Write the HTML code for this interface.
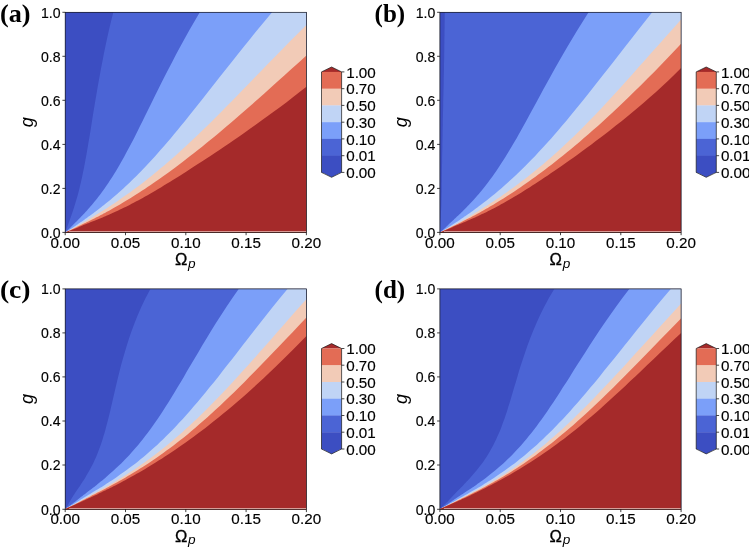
<!DOCTYPE html>
<html><head><meta charset="utf-8"><title>Figure</title>
<style>html,body{margin:0;padding:0;background:#fff;overflow:hidden}svg{display:block;will-change:transform}</style>
</head><body>
<svg width="749" height="550" viewBox="0 0 749 550">
<rect width="749" height="550" fill="#fff"/>
<clipPath id="cpa"><rect x="64.9" y="12.0" width="241.8" height="220.7"/></clipPath>
<g>
<g clip-path="url(#cpa)">
<rect x="64.9" y="12.0" width="241.8" height="220.7" fill="#3c4ec2"/>
<polygon points="65.2,232.4 67.1,227.4 67.2,227.2 67.3,227.0 67.3,226.7 67.4,226.5 67.5,226.2 67.6,225.9 67.7,225.7 67.8,225.4 67.9,225.1 68.0,224.8 68.2,224.4 68.3,224.1 68.4,223.7 68.5,223.3 68.7,222.9 68.8,222.5 69.0,222.1 69.1,221.7 69.3,221.2 69.5,220.7 69.7,220.2 69.8,219.7 70.0,219.1 70.3,218.5 70.5,217.9 70.7,217.3 70.9,216.6 71.2,216.0 71.4,215.2 71.7,214.5 71.9,213.7 72.2,212.9 72.5,212.1 72.8,211.2 73.1,210.3 73.4,209.3 73.8,208.3 74.1,207.2 74.4,206.1 74.8,205.0 75.2,203.8 75.5,202.6 75.9,201.3 76.3,199.9 76.7,198.5 77.2,197.0 77.6,195.5 78.0,193.9 78.5,192.2 78.9,190.5 79.4,188.7 79.8,186.8 80.3,184.8 80.8,182.7 81.3,180.6 81.8,178.3 82.3,176.0 82.8,173.5 83.3,170.9 83.9,168.3 84.4,165.5 85.0,162.6 85.5,159.5 86.1,156.4 86.7,153.1 87.3,149.6 87.9,146.0 88.5,142.3 89.2,138.4 89.9,134.3 90.6,130.0 91.3,125.6 92.0,120.9 92.8,116.1 93.6,111.0 94.5,105.8 95.4,100.3 96.4,94.5 97.4,88.5 98.5,82.3 99.7,75.8 100.9,69.0 102.3,61.9 103.7,54.5 105.3,46.7 107.0,38.7 108.9,30.2 111.0,21.5 113.3,12.3 306.4,12.3 306.4,233.4 65.2,233.4" fill="#4b64d5"/>
<polygon points="65.2,232.4 70.5,227.4 70.7,227.2 71.0,227.0 71.2,226.7 71.4,226.5 71.7,226.2 72.0,225.9 72.2,225.7 72.5,225.4 72.8,225.1 73.2,224.8 73.5,224.4 73.8,224.1 74.2,223.7 74.6,223.3 75.0,222.9 75.4,222.5 75.8,222.1 76.3,221.7 76.7,221.2 77.2,220.7 77.7,220.2 78.2,219.7 78.8,219.1 79.4,218.5 79.9,217.9 80.6,217.3 81.2,216.6 81.8,216.0 82.5,215.2 83.2,214.5 84.0,213.7 84.7,212.9 85.5,212.1 86.3,211.2 87.2,210.3 88.0,209.3 88.9,208.3 89.8,207.2 90.8,206.1 91.8,205.0 92.8,203.8 93.8,202.6 94.8,201.3 95.9,199.9 97.1,198.5 98.2,197.0 99.4,195.5 100.6,193.9 101.8,192.2 103.1,190.5 104.4,188.7 105.7,186.8 107.1,184.8 108.5,182.7 109.9,180.6 111.4,178.3 112.9,176.0 114.4,173.5 116.0,170.9 117.6,168.3 119.2,165.5 120.9,162.6 122.6,159.5 124.3,156.4 126.1,153.1 128.0,149.6 129.9,146.0 131.9,142.3 133.9,138.4 136.0,134.3 138.1,130.0 140.3,125.6 142.6,120.9 145.0,116.1 147.5,111.0 150.1,105.8 152.8,100.3 155.6,94.5 158.6,88.5 161.7,82.3 165.0,75.8 168.5,69.0 172.2,61.9 176.0,54.5 180.2,46.7 184.6,38.7 189.3,30.2 194.4,21.5 199.8,12.3 306.4,12.3 306.4,233.4 65.2,233.4" fill="#7b9ff9"/>
<polygon points="65.2,232.4 73.0,227.4 73.3,227.2 73.6,227.0 74.0,226.7 74.4,226.5 74.8,226.2 75.2,225.9 75.6,225.7 76.0,225.4 76.5,225.1 77.0,224.8 77.5,224.4 78.0,224.1 78.5,223.7 79.0,223.3 79.6,222.9 80.2,222.5 80.8,222.1 81.5,221.7 82.2,221.2 82.9,220.7 83.6,220.2 84.4,219.7 85.1,219.1 86.0,218.5 86.8,217.9 87.7,217.3 88.6,216.6 89.5,216.0 90.5,215.2 91.6,214.5 92.6,213.7 93.7,212.9 94.8,212.1 96.0,211.2 97.2,210.3 98.5,209.3 99.8,208.3 101.1,207.2 102.5,206.1 104.0,205.0 105.4,203.8 107.0,202.6 108.6,201.3 110.2,199.9 111.9,198.5 113.6,197.0 115.4,195.5 117.2,193.9 119.1,192.2 121.1,190.5 123.1,188.7 125.1,186.8 127.3,184.8 129.5,182.7 131.7,180.6 134.0,178.3 136.4,176.0 138.8,173.5 141.3,170.9 143.9,168.3 146.5,165.5 149.3,162.6 152.1,159.5 154.9,156.4 157.9,153.1 160.9,149.6 164.1,146.0 167.3,142.3 170.6,138.4 174.0,134.3 177.6,130.0 181.2,125.6 185.0,120.9 188.9,116.1 192.9,111.0 197.1,105.8 201.5,100.3 206.0,94.5 210.7,88.5 215.6,82.3 220.7,75.8 226.1,69.0 231.7,61.9 237.6,54.5 243.8,46.7 250.3,38.7 257.1,30.2 264.4,21.5 272.1,12.3 306.4,12.3 306.4,233.4 65.2,233.4" fill="#c0d4f5"/>
<polygon points="65.2,232.4 74.5,227.4 74.9,227.2 75.3,227.0 75.7,226.7 76.2,226.5 76.6,226.2 77.1,226.0 77.6,225.7 78.1,225.4 78.7,225.1 79.2,224.8 79.8,224.5 80.4,224.1 81.0,223.8 81.7,223.4 82.4,223.0 83.1,222.6 83.8,222.2 84.5,221.8 85.3,221.3 86.1,220.9 87.0,220.4 87.8,219.8 88.8,219.3 89.7,218.7 90.7,218.2 91.7,217.6 92.8,216.9 93.9,216.3 95.0,215.6 96.2,214.8 97.4,214.1 98.7,213.3 100.0,212.5 101.3,211.6 102.7,210.8 104.2,209.8 105.7,208.9 107.3,207.9 108.9,206.8 110.6,205.7 112.3,204.6 114.1,203.4 115.9,202.2 117.8,200.9 119.8,199.5 121.8,198.1 123.9,196.6 126.1,195.1 128.3,193.5 130.6,191.9 133.0,190.1 135.5,188.3 138.0,186.4 140.6,184.5 143.2,182.4 146.0,180.3 148.8,178.0 151.7,175.7 154.7,173.3 157.8,170.8 160.9,168.1 164.2,165.4 167.5,162.5 171.0,159.5 174.5,156.4 178.1,153.2 181.9,149.8 185.7,146.3 189.7,142.6 193.7,138.7 198.0,134.7 202.3,130.6 206.8,126.2 211.4,121.7 216.1,116.9 221.1,112.0 226.2,106.8 231.5,101.5 236.9,95.9 242.6,90.0 248.5,84.0 254.7,77.6 261.1,71.0 267.8,64.1 274.8,56.9 282.1,49.4 289.8,41.6 297.9,33.4 306.4,24.9 306.4,233.4 65.2,233.4" fill="#f2cbb7"/>
<polygon points="65.2,232.4 76.0,227.4 76.4,227.2 76.9,227.0 77.3,226.8 77.8,226.5 78.3,226.3 78.9,226.0 79.4,225.8 80.0,225.5 80.6,225.2 81.2,224.9 81.9,224.6 82.5,224.3 83.2,224.0 83.9,223.6 84.7,223.3 85.4,222.9 86.2,222.5 87.1,222.1 87.9,221.7 88.8,221.3 89.7,220.8 90.7,220.3 91.6,219.8 92.7,219.3 93.7,218.8 94.8,218.2 95.9,217.6 97.1,217.0 98.3,216.4 99.6,215.8 100.8,215.1 102.2,214.4 103.6,213.6 105.0,212.9 106.4,212.1 108.0,211.2 109.5,210.4 111.1,209.5 112.8,208.5 114.5,207.6 116.3,206.5 118.1,205.5 120.0,204.4 121.9,203.2 123.9,202.0 126.0,200.8 128.1,199.5 130.3,198.2 132.6,196.8 134.9,195.3 137.3,193.8 139.7,192.2 142.2,190.6 144.8,188.9 147.5,187.1 150.3,185.2 153.1,183.3 156.0,181.3 159.0,179.2 162.1,177.0 165.3,174.8 168.5,172.4 171.9,170.0 175.3,167.4 178.9,164.8 182.5,162.0 186.3,159.1 190.1,156.1 194.1,153.0 198.2,149.7 202.4,146.4 206.8,142.8 211.2,139.2 215.9,135.4 220.6,131.4 225.5,127.3 230.6,123.0 235.8,118.5 241.2,113.8 246.7,109.0 252.5,103.9 258.4,98.7 264.6,93.2 270.9,87.5 277.5,81.6 284.3,75.5 291.4,69.0 298.8,62.4 306.4,55.4 306.4,233.4 65.2,233.4" fill="#e36c55"/>
<polygon points="65.2,232.4 78.1,227.4 78.5,227.2 79.0,227.0 79.4,226.8 79.9,226.6 80.4,226.4 80.9,226.1 81.5,225.9 82.1,225.6 82.7,225.4 83.4,225.1 84.1,224.8 84.8,224.5 85.6,224.2 86.4,223.9 87.2,223.6 88.1,223.2 89.0,222.9 89.9,222.5 90.9,222.1 91.9,221.7 92.9,221.3 94.0,220.9 95.1,220.4 96.3,220.0 97.5,219.5 98.7,219.0 100.0,218.5 101.3,218.0 102.6,217.4 104.0,216.8 105.4,216.2 106.9,215.6 108.4,214.9 109.9,214.3 111.5,213.6 113.1,212.8 114.8,212.1 116.5,211.3 118.2,210.5 120.0,209.6 121.8,208.8 123.7,207.8 125.6,206.9 127.6,205.9 129.6,204.9 131.6,203.8 133.7,202.7 135.9,201.6 138.1,200.4 140.4,199.2 142.7,197.9 145.1,196.5 147.6,195.2 150.1,193.7 152.7,192.2 155.3,190.7 158.1,189.1 160.9,187.4 163.8,185.6 166.7,183.8 169.8,182.0 172.9,180.0 176.2,178.0 179.5,175.9 183.0,173.7 186.5,171.4 190.2,169.1 194.0,166.6 197.9,164.1 201.9,161.5 206.1,158.7 210.4,155.9 214.8,152.9 219.4,149.9 224.1,146.7 229.0,143.4 234.0,139.9 239.2,136.4 244.5,132.7 250.0,128.8 255.7,124.8 261.5,120.6 267.4,116.3 273.6,111.8 279.9,107.2 286.3,102.4 292.9,97.3 299.6,92.1 306.4,86.7 306.4,233.4 65.2,233.4" fill="#a52a2a"/>
</g>
<line x1="69.2" y1="231.65" x2="306.4" y2="231.65" stroke="#f3cdc6" stroke-width="0.8"/>
<rect x="65.2" y="12.3" width="241.2" height="220.1" fill="none" stroke="#1a1a1a" stroke-width="0.7"/>
<line x1="62.4" y1="232.4" x2="65.2" y2="232.4" stroke="#111" stroke-width="0.8"/>
<text x="60.6" y="237.7" text-anchor="end" textLength="19.6" lengthAdjust="spacingAndGlyphs" font-family="Liberation Sans, sans-serif" font-size="14.5" fill="#000" stroke="#000" stroke-width="0.15">0.0</text>
<line x1="62.4" y1="188.4" x2="65.2" y2="188.4" stroke="#111" stroke-width="0.8"/>
<text x="60.6" y="193.7" text-anchor="end" textLength="19.6" lengthAdjust="spacingAndGlyphs" font-family="Liberation Sans, sans-serif" font-size="14.5" fill="#000" stroke="#000" stroke-width="0.15">0.2</text>
<line x1="62.4" y1="144.4" x2="65.2" y2="144.4" stroke="#111" stroke-width="0.8"/>
<text x="60.6" y="149.7" text-anchor="end" textLength="19.6" lengthAdjust="spacingAndGlyphs" font-family="Liberation Sans, sans-serif" font-size="14.5" fill="#000" stroke="#000" stroke-width="0.15">0.4</text>
<line x1="62.4" y1="100.3" x2="65.2" y2="100.3" stroke="#111" stroke-width="0.8"/>
<text x="60.6" y="105.6" text-anchor="end" textLength="19.6" lengthAdjust="spacingAndGlyphs" font-family="Liberation Sans, sans-serif" font-size="14.5" fill="#000" stroke="#000" stroke-width="0.15">0.6</text>
<line x1="62.4" y1="56.3" x2="65.2" y2="56.3" stroke="#111" stroke-width="0.8"/>
<text x="60.6" y="61.6" text-anchor="end" textLength="19.6" lengthAdjust="spacingAndGlyphs" font-family="Liberation Sans, sans-serif" font-size="14.5" fill="#000" stroke="#000" stroke-width="0.15">0.8</text>
<line x1="62.4" y1="12.3" x2="65.2" y2="12.3" stroke="#111" stroke-width="0.8"/>
<text x="60.6" y="17.6" text-anchor="end" textLength="19.6" lengthAdjust="spacingAndGlyphs" font-family="Liberation Sans, sans-serif" font-size="14.5" fill="#000" stroke="#000" stroke-width="0.15">1.0</text>
<line x1="65.2" y1="232.4" x2="65.2" y2="235.2" stroke="#111" stroke-width="0.8"/>
<text x="65.2" y="247.6" text-anchor="middle" textLength="29.6" lengthAdjust="spacingAndGlyphs" font-family="Liberation Sans, sans-serif" font-size="14.5" fill="#000" stroke="#000" stroke-width="0.15">0.00</text>
<line x1="125.5" y1="232.4" x2="125.5" y2="235.2" stroke="#111" stroke-width="0.8"/>
<text x="125.5" y="247.6" text-anchor="middle" textLength="29.6" lengthAdjust="spacingAndGlyphs" font-family="Liberation Sans, sans-serif" font-size="14.5" fill="#000" stroke="#000" stroke-width="0.15">0.05</text>
<line x1="185.8" y1="232.4" x2="185.8" y2="235.2" stroke="#111" stroke-width="0.8"/>
<text x="185.8" y="247.6" text-anchor="middle" textLength="29.6" lengthAdjust="spacingAndGlyphs" font-family="Liberation Sans, sans-serif" font-size="14.5" fill="#000" stroke="#000" stroke-width="0.15">0.10</text>
<line x1="246.1" y1="232.4" x2="246.1" y2="235.2" stroke="#111" stroke-width="0.8"/>
<text x="246.1" y="247.6" text-anchor="middle" textLength="29.6" lengthAdjust="spacingAndGlyphs" font-family="Liberation Sans, sans-serif" font-size="14.5" fill="#000" stroke="#000" stroke-width="0.15">0.15</text>
<line x1="306.4" y1="232.4" x2="306.4" y2="235.2" stroke="#111" stroke-width="0.8"/>
<text x="306.4" y="247.6" text-anchor="middle" textLength="29.6" lengthAdjust="spacingAndGlyphs" font-family="Liberation Sans, sans-serif" font-size="14.5" fill="#000" stroke="#000" stroke-width="0.15">0.20</text>
<text x="174.9" y="265.1" font-family="Liberation Sans, sans-serif" font-size="16.2" fill="#000" stroke="#000" stroke-width="0.3" textLength="12.4" lengthAdjust="spacingAndGlyphs">&#937;</text>
<text x="188.0" y="267.7" font-family="Liberation Sans, sans-serif" font-style="italic" font-size="12.4" fill="#000" textLength="7.6" lengthAdjust="spacingAndGlyphs">p</text>
<text transform="translate(32.7,122.3) rotate(-90)" font-family="Liberation Sans, sans-serif" font-style="italic" font-size="18.2" fill="#000" text-anchor="middle">g</text>
<text x="-0.1" y="21.6" font-family="Liberation Serif, serif" font-weight="bold" font-size="26" fill="#000" textLength="30.6" lengthAdjust="spacingAndGlyphs">(a)</text>
<polygon points="321.5,71.9 331.6,67.0 341.6,71.9" fill="#a52a2a"/>
<rect x="321.5" y="71.90" width="20.1" height="17.05" fill="#e36c55"/>
<rect x="321.5" y="88.65" width="20.1" height="17.05" fill="#f2cbb7"/>
<rect x="321.5" y="105.40" width="20.1" height="17.05" fill="#c0d4f5"/>
<rect x="321.5" y="122.15" width="20.1" height="17.05" fill="#7b9ff9"/>
<rect x="321.5" y="138.90" width="20.1" height="17.05" fill="#4b64d5"/>
<rect x="321.5" y="155.65" width="20.1" height="17.05" fill="#3c4ec2"/>
<polygon points="321.5,172.0 331.6,177.3 341.6,172.0" fill="#3c4ec2"/>
<polygon points="321.5,71.9 331.6,67.0 341.6,71.9 341.6,172.4 331.6,177.3 321.5,172.4" fill="none" stroke="#1a1a1a" stroke-width="0.7"/>
<line x1="341.6" y1="71.9" x2="344.4" y2="71.9" stroke="#1a1a1a" stroke-width="0.8"/>
<text x="346.2" y="77.5" textLength="29.6" lengthAdjust="spacingAndGlyphs" font-family="Liberation Sans, sans-serif" font-size="14.5" fill="#000" stroke="#000" stroke-width="0.15">1.00</text>
<line x1="341.6" y1="88.7" x2="344.4" y2="88.7" stroke="#1a1a1a" stroke-width="0.8"/>
<text x="346.2" y="94.2" textLength="29.6" lengthAdjust="spacingAndGlyphs" font-family="Liberation Sans, sans-serif" font-size="14.5" fill="#000" stroke="#000" stroke-width="0.15">0.70</text>
<line x1="341.6" y1="105.4" x2="344.4" y2="105.4" stroke="#1a1a1a" stroke-width="0.8"/>
<text x="346.2" y="111.0" textLength="29.6" lengthAdjust="spacingAndGlyphs" font-family="Liberation Sans, sans-serif" font-size="14.5" fill="#000" stroke="#000" stroke-width="0.15">0.50</text>
<line x1="341.6" y1="122.2" x2="344.4" y2="122.2" stroke="#1a1a1a" stroke-width="0.8"/>
<text x="346.2" y="127.8" textLength="29.6" lengthAdjust="spacingAndGlyphs" font-family="Liberation Sans, sans-serif" font-size="14.5" fill="#000" stroke="#000" stroke-width="0.15">0.30</text>
<line x1="341.6" y1="138.9" x2="344.4" y2="138.9" stroke="#1a1a1a" stroke-width="0.8"/>
<text x="346.2" y="144.5" textLength="29.6" lengthAdjust="spacingAndGlyphs" font-family="Liberation Sans, sans-serif" font-size="14.5" fill="#000" stroke="#000" stroke-width="0.15">0.10</text>
<line x1="341.6" y1="155.7" x2="344.4" y2="155.7" stroke="#1a1a1a" stroke-width="0.8"/>
<text x="346.2" y="161.2" textLength="29.6" lengthAdjust="spacingAndGlyphs" font-family="Liberation Sans, sans-serif" font-size="14.5" fill="#000" stroke="#000" stroke-width="0.15">0.01</text>
<line x1="341.6" y1="172.4" x2="344.4" y2="172.4" stroke="#1a1a1a" stroke-width="0.8"/>
<text x="346.2" y="178.0" textLength="29.6" lengthAdjust="spacingAndGlyphs" font-family="Liberation Sans, sans-serif" font-size="14.5" fill="#000" stroke="#000" stroke-width="0.15">0.00</text>
</g>
<clipPath id="cpb"><rect x="439.6" y="12.0" width="241.8" height="220.7"/></clipPath>
<g>
<g clip-path="url(#cpb)">
<rect x="439.6" y="12.0" width="241.8" height="220.7" fill="#3c4ec2"/>
<polygon points="439.9,232.4 440.1,228.7 440.4,224.9 440.6,221.2 440.8,217.5 440.9,213.7 441.1,210.0 441.3,206.3 441.4,202.6 441.5,198.8 441.6,195.1 441.7,191.4 441.7,187.6 441.7,183.9 441.8,180.2 441.8,176.4 441.9,172.7 441.9,169.0 442.0,165.3 442.1,161.5 442.1,157.8 442.2,154.1 442.3,150.3 442.4,146.6 442.4,142.9 442.5,139.1 442.6,135.4 442.6,131.7 442.7,127.9 442.8,124.2 442.8,120.5 442.9,116.8 443.0,113.0 443.1,109.3 443.2,105.6 443.2,101.8 443.3,98.1 443.4,94.4 443.5,90.6 443.6,86.9 443.7,83.2 443.7,79.4 443.8,75.7 443.9,72.0 444.0,68.3 444.0,64.5 444.1,60.8 444.2,57.1 444.2,53.3 444.3,49.6 444.3,45.9 444.4,42.1 444.4,38.4 444.5,34.7 444.5,31.0 444.6,27.2 444.6,23.5 444.7,19.8 444.7,16.0 444.8,12.3 681.1,12.3 681.1,233.4 439.9,233.4" fill="#4b64d5"/>
<polygon points="439.9,232.4 445.6,227.4 445.8,227.2 446.1,227.0 446.3,226.7 446.5,226.5 446.8,226.2 447.1,225.9 447.4,225.7 447.7,225.4 448.0,225.1 448.3,224.8 448.7,224.4 449.0,224.1 449.4,223.7 449.8,223.3 450.2,222.9 450.7,222.5 451.1,222.1 451.6,221.7 452.1,221.2 452.6,220.7 453.2,220.2 453.8,219.7 454.3,219.1 455.0,218.5 455.6,217.9 456.3,217.3 457.0,216.6 457.7,216.0 458.5,215.2 459.2,214.5 460.1,213.7 460.9,212.9 461.8,212.1 462.7,211.2 463.6,210.3 464.6,209.3 465.6,208.3 466.6,207.2 467.7,206.1 468.8,205.0 469.9,203.8 471.1,202.6 472.3,201.3 473.5,199.9 474.8,198.5 476.1,197.0 477.4,195.5 478.8,193.9 480.2,192.2 481.7,190.5 483.1,188.7 484.7,186.8 486.2,184.8 487.8,182.7 489.4,180.6 491.1,178.3 492.8,176.0 494.5,173.5 496.3,170.9 498.1,168.3 499.9,165.5 501.8,162.6 503.8,159.5 505.7,156.4 507.8,153.1 509.9,149.6 512.0,146.0 514.2,142.3 516.5,138.4 518.8,134.3 521.2,130.0 523.7,125.6 526.2,120.9 528.9,116.1 531.6,111.0 534.5,105.8 537.5,100.3 540.6,94.5 543.8,88.5 547.3,82.3 550.9,75.8 554.6,69.0 558.6,61.9 562.9,54.5 567.4,46.7 572.2,38.7 577.3,30.2 582.8,21.5 588.6,12.3 681.1,12.3 681.1,233.4 439.9,233.4" fill="#7b9ff9"/>
<polygon points="439.9,232.4 448.0,227.4 448.4,227.2 448.7,227.0 449.1,226.7 449.5,226.5 450.0,226.2 450.4,225.9 450.8,225.7 451.3,225.4 451.8,225.1 452.3,224.8 452.8,224.4 453.4,224.1 453.9,223.7 454.5,223.3 455.1,222.9 455.7,222.5 456.4,222.1 457.1,221.7 457.8,221.2 458.5,220.7 459.3,220.2 460.1,219.7 460.9,219.1 461.8,218.5 462.6,217.9 463.6,217.3 464.5,216.6 465.5,216.0 466.5,215.2 467.6,214.5 468.7,213.7 469.9,212.9 471.1,212.1 472.3,211.2 473.6,210.3 474.9,209.3 476.2,208.3 477.7,207.2 479.1,206.1 480.6,205.0 482.2,203.8 483.8,202.6 485.5,201.3 487.2,199.9 489.0,198.5 490.8,197.0 492.7,195.5 494.7,193.9 496.7,192.2 498.7,190.5 500.9,188.7 503.1,186.8 505.3,184.8 507.6,182.7 510.0,180.6 512.5,178.3 515.0,176.0 517.6,173.5 520.2,170.9 523.0,168.3 525.8,165.5 528.7,162.6 531.6,159.5 534.7,156.4 537.8,153.1 541.0,149.6 544.3,146.0 547.7,142.3 551.2,138.4 554.8,134.3 558.5,130.0 562.2,125.6 566.2,120.9 570.2,116.1 574.3,111.0 578.6,105.8 583.1,100.3 587.7,94.5 592.4,88.5 597.3,82.3 602.4,75.8 607.8,69.0 613.3,61.9 619.1,54.5 625.1,46.7 631.4,38.7 638.0,30.2 644.9,21.5 652.2,12.3 681.1,12.3 681.1,233.4 439.9,233.4" fill="#c0d4f5"/>
<polygon points="439.9,232.4 449.5,227.4 449.9,227.2 450.4,227.0 450.9,226.7 451.4,226.5 451.9,226.2 452.5,226.0 453.0,225.7 453.6,225.4 454.2,225.1 454.8,224.8 455.4,224.5 456.1,224.1 456.7,223.8 457.4,223.4 458.1,223.0 458.9,222.6 459.6,222.2 460.4,221.7 461.2,221.3 462.1,220.8 462.9,220.3 463.8,219.8 464.8,219.2 465.7,218.7 466.8,218.1 467.8,217.4 468.9,216.8 470.0,216.1 471.2,215.4 472.4,214.7 473.6,213.9 474.9,213.1 476.3,212.3 477.7,211.4 479.2,210.5 480.7,209.6 482.2,208.6 483.8,207.6 485.5,206.5 487.2,205.4 489.0,204.3 490.9,203.0 492.8,201.8 494.8,200.5 496.9,199.1 499.0,197.7 501.2,196.2 503.4,194.6 505.8,193.0 508.2,191.3 510.6,189.5 513.2,187.7 515.8,185.7 518.5,183.7 521.3,181.6 524.2,179.4 527.1,177.2 530.1,174.8 533.3,172.3 536.4,169.7 539.7,167.0 543.1,164.2 546.5,161.3 550.1,158.2 553.7,155.0 557.4,151.7 561.2,148.2 565.1,144.6 569.1,140.8 573.2,136.9 577.5,132.7 581.8,128.5 586.2,124.0 590.8,119.3 595.5,114.4 600.3,109.4 605.3,104.1 610.4,98.5 615.7,92.8 621.2,86.8 626.8,80.5 632.7,74.0 638.7,67.1 645.1,60.0 651.6,52.6 658.5,44.9 665.7,36.8 673.2,28.4 681.1,19.6 681.1,233.4 439.9,233.4" fill="#f2cbb7"/>
<polygon points="439.9,232.4 450.5,227.4 450.9,227.2 451.4,227.0 451.9,226.7 452.3,226.5 452.9,226.3 453.4,226.0 453.9,225.7 454.5,225.5 455.1,225.2 455.7,224.9 456.4,224.6 457.1,224.2 457.7,223.9 458.5,223.5 459.2,223.2 460.0,222.8 460.8,222.4 461.6,222.0 462.5,221.5 463.4,221.1 464.3,220.6 465.3,220.1 466.3,219.6 467.3,219.1 468.4,218.5 469.5,218.0 470.7,217.4 471.8,216.7 473.1,216.1 474.3,215.4 475.7,214.7 477.0,214.0 478.4,213.2 479.9,212.4 481.4,211.6 482.9,210.7 484.5,209.8 486.1,208.8 487.8,207.9 489.6,206.8 491.4,205.8 493.3,204.7 495.2,203.5 497.2,202.3 499.2,201.1 501.3,199.8 503.5,198.4 505.7,197.0 508.0,195.5 510.4,194.0 512.8,192.4 515.4,190.7 517.9,189.0 520.6,187.2 523.3,185.3 526.2,183.3 529.1,181.3 532.1,179.1 535.1,176.9 538.3,174.6 541.5,172.2 544.9,169.7 548.3,167.1 551.8,164.4 555.5,161.5 559.2,158.6 563.1,155.5 567.0,152.3 571.1,149.0 575.2,145.5 579.5,141.9 583.9,138.1 588.4,134.2 593.1,130.1 597.9,125.9 602.8,121.4 607.9,116.8 613.1,112.0 618.4,107.0 623.9,101.7 629.6,96.3 635.4,90.6 641.4,84.7 647.5,78.6 653.9,72.2 660.4,65.5 667.1,58.6 674.0,51.3 681.1,43.8 681.1,233.4 439.9,233.4" fill="#e36c55"/>
<polygon points="439.9,232.4 452.0,227.4 452.5,227.2 452.9,227.0 453.4,226.8 453.9,226.6 454.4,226.3 455.0,226.1 455.5,225.8 456.2,225.6 456.8,225.3 457.5,225.0 458.2,224.7 458.9,224.4 459.6,224.1 460.4,223.7 461.2,223.4 462.1,223.0 463.0,222.7 463.9,222.3 464.9,221.9 465.9,221.4 466.9,221.0 467.9,220.5 469.0,220.1 470.2,219.6 471.3,219.1 472.5,218.5 473.8,218.0 475.1,217.4 476.4,216.8 477.7,216.2 479.1,215.5 480.6,214.8 482.0,214.1 483.5,213.4 485.1,212.7 486.7,211.9 488.3,211.0 490.0,210.2 491.8,209.3 493.5,208.4 495.4,207.4 497.2,206.4 499.2,205.4 501.1,204.3 503.2,203.2 505.3,202.0 507.4,200.8 509.6,199.5 511.8,198.2 514.2,196.8 516.5,195.4 519.0,193.9 521.5,192.4 524.1,190.8 526.8,189.1 529.5,187.4 532.3,185.6 535.2,183.7 538.2,181.8 541.3,179.7 544.5,177.6 547.8,175.4 551.1,173.1 554.6,170.8 558.2,168.3 561.9,165.7 565.7,163.1 569.6,160.3 573.7,157.4 577.8,154.4 582.1,151.3 586.5,148.0 591.1,144.7 595.8,141.1 600.6,137.5 605.6,133.7 610.7,129.7 615.9,125.6 621.2,121.4 626.7,116.9 632.4,112.3 638.1,107.5 644.0,102.5 649.9,97.3 656.0,91.9 662.2,86.3 668.4,80.4 674.8,74.3 681.1,68.0 681.1,233.4 439.9,233.4" fill="#a52a2a"/>
</g>
<line x1="443.9" y1="231.65" x2="681.1" y2="231.65" stroke="#f3cdc6" stroke-width="0.8"/>
<rect x="439.9" y="12.3" width="241.2" height="220.1" fill="none" stroke="#1a1a1a" stroke-width="0.7"/>
<line x1="437.1" y1="232.4" x2="439.9" y2="232.4" stroke="#111" stroke-width="0.8"/>
<text x="435.3" y="237.7" text-anchor="end" textLength="19.6" lengthAdjust="spacingAndGlyphs" font-family="Liberation Sans, sans-serif" font-size="14.5" fill="#000" stroke="#000" stroke-width="0.15">0.0</text>
<line x1="437.1" y1="188.4" x2="439.9" y2="188.4" stroke="#111" stroke-width="0.8"/>
<text x="435.3" y="193.7" text-anchor="end" textLength="19.6" lengthAdjust="spacingAndGlyphs" font-family="Liberation Sans, sans-serif" font-size="14.5" fill="#000" stroke="#000" stroke-width="0.15">0.2</text>
<line x1="437.1" y1="144.4" x2="439.9" y2="144.4" stroke="#111" stroke-width="0.8"/>
<text x="435.3" y="149.7" text-anchor="end" textLength="19.6" lengthAdjust="spacingAndGlyphs" font-family="Liberation Sans, sans-serif" font-size="14.5" fill="#000" stroke="#000" stroke-width="0.15">0.4</text>
<line x1="437.1" y1="100.3" x2="439.9" y2="100.3" stroke="#111" stroke-width="0.8"/>
<text x="435.3" y="105.6" text-anchor="end" textLength="19.6" lengthAdjust="spacingAndGlyphs" font-family="Liberation Sans, sans-serif" font-size="14.5" fill="#000" stroke="#000" stroke-width="0.15">0.6</text>
<line x1="437.1" y1="56.3" x2="439.9" y2="56.3" stroke="#111" stroke-width="0.8"/>
<text x="435.3" y="61.6" text-anchor="end" textLength="19.6" lengthAdjust="spacingAndGlyphs" font-family="Liberation Sans, sans-serif" font-size="14.5" fill="#000" stroke="#000" stroke-width="0.15">0.8</text>
<line x1="437.1" y1="12.3" x2="439.9" y2="12.3" stroke="#111" stroke-width="0.8"/>
<text x="435.3" y="17.6" text-anchor="end" textLength="19.6" lengthAdjust="spacingAndGlyphs" font-family="Liberation Sans, sans-serif" font-size="14.5" fill="#000" stroke="#000" stroke-width="0.15">1.0</text>
<line x1="439.9" y1="232.4" x2="439.9" y2="235.2" stroke="#111" stroke-width="0.8"/>
<text x="439.9" y="247.6" text-anchor="middle" textLength="29.6" lengthAdjust="spacingAndGlyphs" font-family="Liberation Sans, sans-serif" font-size="14.5" fill="#000" stroke="#000" stroke-width="0.15">0.00</text>
<line x1="500.2" y1="232.4" x2="500.2" y2="235.2" stroke="#111" stroke-width="0.8"/>
<text x="500.2" y="247.6" text-anchor="middle" textLength="29.6" lengthAdjust="spacingAndGlyphs" font-family="Liberation Sans, sans-serif" font-size="14.5" fill="#000" stroke="#000" stroke-width="0.15">0.05</text>
<line x1="560.5" y1="232.4" x2="560.5" y2="235.2" stroke="#111" stroke-width="0.8"/>
<text x="560.5" y="247.6" text-anchor="middle" textLength="29.6" lengthAdjust="spacingAndGlyphs" font-family="Liberation Sans, sans-serif" font-size="14.5" fill="#000" stroke="#000" stroke-width="0.15">0.10</text>
<line x1="620.8" y1="232.4" x2="620.8" y2="235.2" stroke="#111" stroke-width="0.8"/>
<text x="620.8" y="247.6" text-anchor="middle" textLength="29.6" lengthAdjust="spacingAndGlyphs" font-family="Liberation Sans, sans-serif" font-size="14.5" fill="#000" stroke="#000" stroke-width="0.15">0.15</text>
<line x1="681.1" y1="232.4" x2="681.1" y2="235.2" stroke="#111" stroke-width="0.8"/>
<text x="681.1" y="247.6" text-anchor="middle" textLength="29.6" lengthAdjust="spacingAndGlyphs" font-family="Liberation Sans, sans-serif" font-size="14.5" fill="#000" stroke="#000" stroke-width="0.15">0.20</text>
<text x="549.6" y="265.1" font-family="Liberation Sans, sans-serif" font-size="16.2" fill="#000" stroke="#000" stroke-width="0.3" textLength="12.4" lengthAdjust="spacingAndGlyphs">&#937;</text>
<text x="562.7" y="267.7" font-family="Liberation Sans, sans-serif" font-style="italic" font-size="12.4" fill="#000" textLength="7.6" lengthAdjust="spacingAndGlyphs">p</text>
<text transform="translate(407.4,122.3) rotate(-90)" font-family="Liberation Sans, sans-serif" font-style="italic" font-size="18.2" fill="#000" text-anchor="middle">g</text>
<text x="374.6" y="21.6" font-family="Liberation Serif, serif" font-weight="bold" font-size="26" fill="#000" textLength="30.6" lengthAdjust="spacingAndGlyphs">(b)</text>
<polygon points="696.2,71.9 706.2,67.0 716.3,71.9" fill="#a52a2a"/>
<rect x="696.2" y="71.90" width="20.1" height="17.05" fill="#e36c55"/>
<rect x="696.2" y="88.65" width="20.1" height="17.05" fill="#f2cbb7"/>
<rect x="696.2" y="105.40" width="20.1" height="17.05" fill="#c0d4f5"/>
<rect x="696.2" y="122.15" width="20.1" height="17.05" fill="#7b9ff9"/>
<rect x="696.2" y="138.90" width="20.1" height="17.05" fill="#4b64d5"/>
<rect x="696.2" y="155.65" width="20.1" height="17.05" fill="#3c4ec2"/>
<polygon points="696.2,172.0 706.2,177.3 716.3,172.0" fill="#3c4ec2"/>
<polygon points="696.2,71.9 706.2,67.0 716.3,71.9 716.3,172.4 706.2,177.3 696.2,172.4" fill="none" stroke="#1a1a1a" stroke-width="0.7"/>
<line x1="716.3" y1="71.9" x2="719.1" y2="71.9" stroke="#1a1a1a" stroke-width="0.8"/>
<text x="720.9" y="77.5" textLength="29.6" lengthAdjust="spacingAndGlyphs" font-family="Liberation Sans, sans-serif" font-size="14.5" fill="#000" stroke="#000" stroke-width="0.15">1.00</text>
<line x1="716.3" y1="88.7" x2="719.1" y2="88.7" stroke="#1a1a1a" stroke-width="0.8"/>
<text x="720.9" y="94.2" textLength="29.6" lengthAdjust="spacingAndGlyphs" font-family="Liberation Sans, sans-serif" font-size="14.5" fill="#000" stroke="#000" stroke-width="0.15">0.70</text>
<line x1="716.3" y1="105.4" x2="719.1" y2="105.4" stroke="#1a1a1a" stroke-width="0.8"/>
<text x="720.9" y="111.0" textLength="29.6" lengthAdjust="spacingAndGlyphs" font-family="Liberation Sans, sans-serif" font-size="14.5" fill="#000" stroke="#000" stroke-width="0.15">0.50</text>
<line x1="716.3" y1="122.2" x2="719.1" y2="122.2" stroke="#1a1a1a" stroke-width="0.8"/>
<text x="720.9" y="127.8" textLength="29.6" lengthAdjust="spacingAndGlyphs" font-family="Liberation Sans, sans-serif" font-size="14.5" fill="#000" stroke="#000" stroke-width="0.15">0.30</text>
<line x1="716.3" y1="138.9" x2="719.1" y2="138.9" stroke="#1a1a1a" stroke-width="0.8"/>
<text x="720.9" y="144.5" textLength="29.6" lengthAdjust="spacingAndGlyphs" font-family="Liberation Sans, sans-serif" font-size="14.5" fill="#000" stroke="#000" stroke-width="0.15">0.10</text>
<line x1="716.3" y1="155.7" x2="719.1" y2="155.7" stroke="#1a1a1a" stroke-width="0.8"/>
<text x="720.9" y="161.2" textLength="29.6" lengthAdjust="spacingAndGlyphs" font-family="Liberation Sans, sans-serif" font-size="14.5" fill="#000" stroke="#000" stroke-width="0.15">0.01</text>
<line x1="716.3" y1="172.4" x2="719.1" y2="172.4" stroke="#1a1a1a" stroke-width="0.8"/>
<text x="720.9" y="178.0" textLength="29.6" lengthAdjust="spacingAndGlyphs" font-family="Liberation Sans, sans-serif" font-size="14.5" fill="#000" stroke="#000" stroke-width="0.15">0.00</text>
</g>
<clipPath id="cpc"><rect x="64.9" y="288.6" width="241.8" height="221.0"/></clipPath>
<g>
<g clip-path="url(#cpc)">
<rect x="64.9" y="288.6" width="241.8" height="221.0" fill="#3c4ec2"/>
<polygon points="65.2,509.0 68.5,504.0 68.6,503.8 68.7,503.6 68.8,503.3 69.0,503.1 69.1,502.8 69.3,502.5 69.4,502.3 69.6,502.0 69.8,501.7 69.9,501.4 70.1,501.0 70.3,500.7 70.5,500.3 70.7,499.9 71.0,499.5 71.2,499.1 71.5,498.7 71.7,498.3 72.0,497.8 72.3,497.3 72.7,496.8 73.0,496.3 73.3,495.7 73.7,495.1 74.1,494.5 74.5,493.9 74.9,493.2 75.4,492.6 75.9,491.8 76.4,491.1 76.9,490.3 77.4,489.5 78.0,488.7 78.6,487.8 79.2,486.9 79.9,485.9 80.5,484.9 81.2,483.8 82.0,482.7 82.7,481.6 83.5,480.4 84.3,479.2 85.1,477.9 85.9,476.5 86.7,475.1 87.6,473.6 88.5,472.1 89.4,470.5 90.3,468.8 91.2,467.1 92.2,465.3 93.1,463.4 94.0,461.4 95.0,459.3 96.0,457.2 96.9,454.9 97.9,452.6 98.8,450.1 99.8,447.5 100.7,444.9 101.7,442.1 102.6,439.2 103.5,436.1 104.5,433.0 105.4,429.7 106.3,426.2 107.3,422.6 108.2,418.9 109.2,415.0 110.2,410.9 111.2,406.6 112.2,402.2 113.3,397.5 114.4,392.7 115.6,387.6 116.8,382.4 118.1,376.9 119.6,371.1 121.1,365.1 122.8,358.9 124.7,352.4 126.8,345.6 129.0,338.5 131.6,331.1 134.5,323.3 137.7,315.3 141.4,306.8 145.6,298.1 150.4,288.9 306.4,288.9 306.4,510.0 65.2,510.0" fill="#4b64d5"/>
<polygon points="65.2,509.0 72.1,504.0 72.4,503.8 72.7,503.6 73.0,503.3 73.3,503.1 73.6,502.8 74.0,502.5 74.3,502.3 74.7,502.0 75.1,501.7 75.5,501.4 75.9,501.0 76.3,500.7 76.8,500.3 77.3,499.9 77.8,499.5 78.3,499.1 78.8,498.7 79.4,498.3 80.0,497.8 80.6,497.3 81.3,496.8 82.0,496.3 82.7,495.7 83.4,495.1 84.2,494.5 85.1,493.9 85.9,493.2 86.8,492.6 87.7,491.8 88.7,491.1 89.7,490.3 90.8,489.5 91.8,488.7 93.0,487.8 94.2,486.9 95.4,485.9 96.7,484.9 98.0,483.8 99.3,482.7 100.7,481.6 102.2,480.4 103.7,479.2 105.2,477.9 106.8,476.5 108.4,475.1 110.1,473.6 111.9,472.1 113.6,470.5 115.4,468.8 117.3,467.1 119.2,465.3 121.2,463.4 123.1,461.4 125.2,459.3 127.2,457.2 129.4,454.9 131.5,452.6 133.7,450.1 135.9,447.5 138.2,444.9 140.5,442.1 142.8,439.2 145.2,436.1 147.6,433.0 150.0,429.7 152.5,426.2 155.1,422.6 157.6,418.9 160.3,415.0 162.9,410.9 165.7,406.6 168.5,402.2 171.4,397.5 174.3,392.7 177.4,387.6 180.5,382.4 183.8,376.9 187.1,371.1 190.7,365.1 194.3,358.9 198.2,352.4 202.2,345.6 206.5,338.5 211.0,331.1 215.8,323.3 221.0,315.3 226.5,306.8 232.4,298.1 238.7,288.9 306.4,288.9 306.4,510.0 65.2,510.0" fill="#7b9ff9"/>
<polygon points="65.2,509.0 73.9,504.0 74.2,503.8 74.5,503.6 74.9,503.3 75.3,503.1 75.6,502.8 76.1,502.5 76.5,502.3 76.9,502.0 77.4,501.7 77.9,501.4 78.4,501.0 79.0,500.7 79.6,500.3 80.2,499.9 80.8,499.5 81.5,499.1 82.2,498.7 82.9,498.3 83.7,497.8 84.5,497.3 85.3,496.8 86.2,496.3 87.1,495.7 88.1,495.1 89.1,494.5 90.1,493.9 91.2,493.2 92.3,492.6 93.5,491.8 94.8,491.1 96.0,490.3 97.4,489.5 98.7,488.7 100.2,487.8 101.7,486.9 103.2,485.9 104.8,484.9 106.4,483.8 108.1,482.7 109.9,481.6 111.7,480.4 113.6,479.2 115.5,477.9 117.5,476.5 119.5,475.1 121.6,473.6 123.8,472.1 126.0,470.5 128.3,468.8 130.6,467.1 133.0,465.3 135.5,463.4 138.0,461.4 140.5,459.3 143.2,457.2 145.8,454.9 148.6,452.6 151.4,450.1 154.2,447.5 157.2,444.9 160.1,442.1 163.2,439.2 166.3,436.1 169.4,433.0 172.7,429.7 176.0,426.2 179.3,422.6 182.8,418.9 186.3,415.0 189.9,410.9 193.6,406.6 197.4,402.2 201.3,397.5 205.3,392.7 209.4,387.6 213.7,382.4 218.1,376.9 222.6,371.1 227.3,365.1 232.2,358.9 237.2,352.4 242.5,345.6 248.0,338.5 253.8,331.1 259.9,323.3 266.2,315.3 272.9,306.8 280.0,298.1 287.5,288.9 306.4,288.9 306.4,510.0 65.2,510.0" fill="#c0d4f5"/>
<polygon points="65.2,509.0 75.1,504.0 75.5,503.8 75.8,503.6 76.3,503.3 76.7,503.1 77.2,502.8 77.6,502.6 78.1,502.3 78.6,502.0 79.2,501.7 79.8,501.4 80.4,501.1 81.0,500.7 81.6,500.4 82.3,500.0 83.0,499.6 83.8,499.2 84.5,498.8 85.3,498.4 86.2,497.9 87.0,497.4 88.0,496.9 88.9,496.4 89.9,495.9 90.9,495.3 92.0,494.7 93.1,494.1 94.3,493.5 95.5,492.8 96.8,492.1 98.1,491.4 99.5,490.6 100.9,489.8 102.3,489.0 103.8,488.2 105.4,487.3 107.0,486.3 108.7,485.4 110.5,484.3 112.3,483.3 114.1,482.2 116.0,481.0 118.0,479.8 120.1,478.6 122.2,477.3 124.3,475.9 126.6,474.5 128.9,473.0 131.2,471.5 133.7,469.9 136.2,468.2 138.7,466.4 141.4,464.6 144.1,462.7 146.8,460.7 149.7,458.7 152.6,456.5 155.6,454.3 158.6,451.9 161.7,449.5 164.9,446.9 168.2,444.2 171.6,441.5 175.0,438.6 178.5,435.6 182.1,432.4 185.7,429.1 189.5,425.7 193.3,422.1 197.3,418.4 201.3,414.5 205.4,410.5 209.6,406.2 214.0,401.8 218.4,397.2 223.0,392.4 227.7,387.4 232.6,382.2 237.6,376.8 242.7,371.1 248.1,365.2 253.6,359.1 259.3,352.6 265.2,345.9 271.4,338.9 277.8,331.6 284.5,324.0 291.4,316.1 298.7,307.8 306.4,299.2 306.4,510.0 65.2,510.0" fill="#f2cbb7"/>
<polygon points="65.2,509.0 75.7,504.0 76.0,503.8 76.4,503.6 76.9,503.3 77.3,503.1 77.8,502.9 78.3,502.6 78.8,502.3 79.3,502.1 79.9,501.8 80.4,501.5 81.0,501.2 81.7,500.8 82.3,500.5 83.0,500.1 83.8,499.8 84.5,499.4 85.3,499.0 86.1,498.5 87.0,498.1 87.9,497.7 88.8,497.2 89.8,496.7 90.8,496.2 91.8,495.6 92.9,495.1 94.1,494.5 95.2,493.9 96.5,493.3 97.7,492.6 99.1,491.9 100.4,491.2 101.9,490.5 103.3,489.7 104.9,488.9 106.5,488.0 108.1,487.2 109.8,486.2 111.6,485.3 113.4,484.3 115.3,483.3 117.2,482.2 119.2,481.1 121.2,479.9 123.4,478.7 125.6,477.4 127.8,476.1 130.1,474.7 132.5,473.3 135.0,471.8 137.5,470.2 140.1,468.6 142.7,466.9 145.4,465.2 148.2,463.4 151.1,461.4 154.0,459.5 157.0,457.4 160.1,455.2 163.3,453.0 166.5,450.6 169.8,448.2 173.2,445.7 176.6,443.0 180.1,440.2 183.8,437.4 187.5,434.4 191.2,431.3 195.1,428.0 199.0,424.6 203.1,421.1 207.2,417.4 211.5,413.6 215.8,409.6 220.3,405.5 224.9,401.1 229.6,396.6 234.4,391.9 239.4,387.0 244.5,381.9 249.7,376.6 255.2,371.1 260.8,365.3 266.6,359.3 272.6,353.0 278.9,346.5 285.3,339.7 292.1,332.7 299.1,325.3 306.4,317.6 306.4,510.0 65.2,510.0" fill="#e36c55"/>
<polygon points="65.2,509.0 76.5,504.0 77.0,503.8 77.4,503.6 77.9,503.4 78.4,503.1 78.9,502.9 79.4,502.7 80.0,502.4 80.6,502.1 81.2,501.8 81.8,501.6 82.5,501.3 83.1,500.9 83.9,500.6 84.6,500.3 85.4,499.9 86.1,499.5 87.0,499.2 87.8,498.8 88.7,498.3 89.7,497.9 90.6,497.5 91.6,497.0 92.7,496.5 93.7,496.0 94.8,495.5 96.0,494.9 97.2,494.4 98.4,493.8 99.7,493.1 101.1,492.5 102.4,491.8 103.9,491.1 105.3,490.4 106.9,489.6 108.4,488.9 110.1,488.0 111.8,487.2 113.5,486.3 115.3,485.4 117.1,484.4 119.1,483.4 121.0,482.4 123.1,481.3 125.2,480.2 127.3,479.0 129.5,477.8 131.8,476.5 134.2,475.2 136.6,473.8 139.1,472.4 141.7,470.9 144.3,469.4 147.0,467.8 149.8,466.1 152.7,464.3 155.6,462.5 158.6,460.6 161.7,458.7 164.9,456.6 168.1,454.5 171.5,452.3 174.9,450.0 178.4,447.6 182.0,445.1 185.7,442.5 189.4,439.8 193.3,437.0 197.2,434.1 201.3,431.0 205.4,427.9 209.7,424.6 214.0,421.1 218.5,417.6 223.0,413.8 227.7,410.0 232.5,406.0 237.4,401.8 242.4,397.4 247.5,392.9 252.7,388.2 258.1,383.3 263.6,378.2 269.3,372.8 275.1,367.3 281.0,361.6 287.1,355.6 293.4,349.3 299.8,342.8 306.4,336.1 306.4,510.0 65.2,510.0" fill="#a52a2a"/>
</g>
<line x1="69.2" y1="508.55" x2="306.4" y2="508.55" stroke="#f3cdc6" stroke-width="0.8"/>
<rect x="65.2" y="288.9" width="241.2" height="220.4" fill="none" stroke="#1a1a1a" stroke-width="0.7"/>
<line x1="62.4" y1="509.3" x2="65.2" y2="509.3" stroke="#111" stroke-width="0.8"/>
<text x="60.6" y="514.6" text-anchor="end" textLength="19.6" lengthAdjust="spacingAndGlyphs" font-family="Liberation Sans, sans-serif" font-size="14.5" fill="#000" stroke="#000" stroke-width="0.15">0.0</text>
<line x1="62.4" y1="465.0" x2="65.2" y2="465.0" stroke="#111" stroke-width="0.8"/>
<text x="60.6" y="470.3" text-anchor="end" textLength="19.6" lengthAdjust="spacingAndGlyphs" font-family="Liberation Sans, sans-serif" font-size="14.5" fill="#000" stroke="#000" stroke-width="0.15">0.2</text>
<line x1="62.4" y1="421.0" x2="65.2" y2="421.0" stroke="#111" stroke-width="0.8"/>
<text x="60.6" y="426.3" text-anchor="end" textLength="19.6" lengthAdjust="spacingAndGlyphs" font-family="Liberation Sans, sans-serif" font-size="14.5" fill="#000" stroke="#000" stroke-width="0.15">0.4</text>
<line x1="62.4" y1="376.9" x2="65.2" y2="376.9" stroke="#111" stroke-width="0.8"/>
<text x="60.6" y="382.2" text-anchor="end" textLength="19.6" lengthAdjust="spacingAndGlyphs" font-family="Liberation Sans, sans-serif" font-size="14.5" fill="#000" stroke="#000" stroke-width="0.15">0.6</text>
<line x1="62.4" y1="332.9" x2="65.2" y2="332.9" stroke="#111" stroke-width="0.8"/>
<text x="60.6" y="338.2" text-anchor="end" textLength="19.6" lengthAdjust="spacingAndGlyphs" font-family="Liberation Sans, sans-serif" font-size="14.5" fill="#000" stroke="#000" stroke-width="0.15">0.8</text>
<line x1="62.4" y1="288.9" x2="65.2" y2="288.9" stroke="#111" stroke-width="0.8"/>
<text x="60.6" y="294.2" text-anchor="end" textLength="19.6" lengthAdjust="spacingAndGlyphs" font-family="Liberation Sans, sans-serif" font-size="14.5" fill="#000" stroke="#000" stroke-width="0.15">1.0</text>
<line x1="65.2" y1="509.3" x2="65.2" y2="512.1" stroke="#111" stroke-width="0.8"/>
<text x="65.2" y="524.4" text-anchor="middle" textLength="29.6" lengthAdjust="spacingAndGlyphs" font-family="Liberation Sans, sans-serif" font-size="14.5" fill="#000" stroke="#000" stroke-width="0.15">0.00</text>
<line x1="125.5" y1="509.3" x2="125.5" y2="512.1" stroke="#111" stroke-width="0.8"/>
<text x="125.5" y="524.4" text-anchor="middle" textLength="29.6" lengthAdjust="spacingAndGlyphs" font-family="Liberation Sans, sans-serif" font-size="14.5" fill="#000" stroke="#000" stroke-width="0.15">0.05</text>
<line x1="185.8" y1="509.3" x2="185.8" y2="512.1" stroke="#111" stroke-width="0.8"/>
<text x="185.8" y="524.4" text-anchor="middle" textLength="29.6" lengthAdjust="spacingAndGlyphs" font-family="Liberation Sans, sans-serif" font-size="14.5" fill="#000" stroke="#000" stroke-width="0.15">0.10</text>
<line x1="246.1" y1="509.3" x2="246.1" y2="512.1" stroke="#111" stroke-width="0.8"/>
<text x="246.1" y="524.4" text-anchor="middle" textLength="29.6" lengthAdjust="spacingAndGlyphs" font-family="Liberation Sans, sans-serif" font-size="14.5" fill="#000" stroke="#000" stroke-width="0.15">0.15</text>
<line x1="306.4" y1="509.3" x2="306.4" y2="512.1" stroke="#111" stroke-width="0.8"/>
<text x="306.4" y="524.4" text-anchor="middle" textLength="29.6" lengthAdjust="spacingAndGlyphs" font-family="Liberation Sans, sans-serif" font-size="14.5" fill="#000" stroke="#000" stroke-width="0.15">0.20</text>
<text x="174.9" y="541.7" font-family="Liberation Sans, sans-serif" font-size="16.2" fill="#000" stroke="#000" stroke-width="0.3" textLength="12.4" lengthAdjust="spacingAndGlyphs">&#937;</text>
<text x="188.0" y="544.3" font-family="Liberation Sans, sans-serif" font-style="italic" font-size="12.4" fill="#000" textLength="7.6" lengthAdjust="spacingAndGlyphs">p</text>
<text transform="translate(32.7,398.9) rotate(-90)" font-family="Liberation Sans, sans-serif" font-style="italic" font-size="18.2" fill="#000" text-anchor="middle">g</text>
<text x="-0.1" y="298.2" font-family="Liberation Serif, serif" font-weight="bold" font-size="26" fill="#000" textLength="30.6" lengthAdjust="spacingAndGlyphs">(c)</text>
<polygon points="321.5,348.5 331.6,343.6 341.6,348.5" fill="#a52a2a"/>
<rect x="321.5" y="348.50" width="20.1" height="17.05" fill="#e36c55"/>
<rect x="321.5" y="365.25" width="20.1" height="17.05" fill="#f2cbb7"/>
<rect x="321.5" y="382.00" width="20.1" height="17.05" fill="#c0d4f5"/>
<rect x="321.5" y="398.75" width="20.1" height="17.05" fill="#7b9ff9"/>
<rect x="321.5" y="415.50" width="20.1" height="17.05" fill="#4b64d5"/>
<rect x="321.5" y="432.25" width="20.1" height="17.05" fill="#3c4ec2"/>
<polygon points="321.5,448.6 331.6,453.9 341.6,448.6" fill="#3c4ec2"/>
<polygon points="321.5,348.5 331.6,343.6 341.6,348.5 341.6,449.0 331.6,453.9 321.5,449.0" fill="none" stroke="#1a1a1a" stroke-width="0.7"/>
<line x1="341.6" y1="348.5" x2="344.4" y2="348.5" stroke="#1a1a1a" stroke-width="0.8"/>
<text x="346.2" y="354.1" textLength="29.6" lengthAdjust="spacingAndGlyphs" font-family="Liberation Sans, sans-serif" font-size="14.5" fill="#000" stroke="#000" stroke-width="0.15">1.00</text>
<line x1="341.6" y1="365.2" x2="344.4" y2="365.2" stroke="#1a1a1a" stroke-width="0.8"/>
<text x="346.2" y="370.9" textLength="29.6" lengthAdjust="spacingAndGlyphs" font-family="Liberation Sans, sans-serif" font-size="14.5" fill="#000" stroke="#000" stroke-width="0.15">0.70</text>
<line x1="341.6" y1="382.0" x2="344.4" y2="382.0" stroke="#1a1a1a" stroke-width="0.8"/>
<text x="346.2" y="387.6" textLength="29.6" lengthAdjust="spacingAndGlyphs" font-family="Liberation Sans, sans-serif" font-size="14.5" fill="#000" stroke="#000" stroke-width="0.15">0.50</text>
<line x1="341.6" y1="398.8" x2="344.4" y2="398.8" stroke="#1a1a1a" stroke-width="0.8"/>
<text x="346.2" y="404.4" textLength="29.6" lengthAdjust="spacingAndGlyphs" font-family="Liberation Sans, sans-serif" font-size="14.5" fill="#000" stroke="#000" stroke-width="0.15">0.30</text>
<line x1="341.6" y1="415.5" x2="344.4" y2="415.5" stroke="#1a1a1a" stroke-width="0.8"/>
<text x="346.2" y="421.1" textLength="29.6" lengthAdjust="spacingAndGlyphs" font-family="Liberation Sans, sans-serif" font-size="14.5" fill="#000" stroke="#000" stroke-width="0.15">0.10</text>
<line x1="341.6" y1="432.2" x2="344.4" y2="432.2" stroke="#1a1a1a" stroke-width="0.8"/>
<text x="346.2" y="437.9" textLength="29.6" lengthAdjust="spacingAndGlyphs" font-family="Liberation Sans, sans-serif" font-size="14.5" fill="#000" stroke="#000" stroke-width="0.15">0.01</text>
<line x1="341.6" y1="449.0" x2="344.4" y2="449.0" stroke="#1a1a1a" stroke-width="0.8"/>
<text x="346.2" y="454.6" textLength="29.6" lengthAdjust="spacingAndGlyphs" font-family="Liberation Sans, sans-serif" font-size="14.5" fill="#000" stroke="#000" stroke-width="0.15">0.00</text>
</g>
<clipPath id="cpd"><rect x="439.6" y="288.6" width="241.8" height="221.0"/></clipPath>
<g>
<g clip-path="url(#cpd)">
<rect x="439.6" y="288.6" width="241.8" height="221.0" fill="#3c4ec2"/>
<polygon points="439.9,509.0 445.1,504.0 445.4,503.8 445.7,503.6 445.9,503.3 446.2,503.1 446.4,502.8 446.7,502.5 447.0,502.3 447.3,502.0 447.6,501.7 447.9,501.4 448.2,501.0 448.5,500.7 448.8,500.3 449.2,499.9 449.5,499.5 449.9,499.1 450.3,498.7 450.7,498.3 451.2,497.8 451.6,497.3 452.1,496.8 452.6,496.3 453.1,495.7 453.6,495.1 454.2,494.5 454.8,493.9 455.4,493.2 456.1,492.6 456.8,491.8 457.5,491.1 458.3,490.3 459.1,489.5 459.9,488.7 460.7,487.8 461.6,486.9 462.6,485.9 463.5,484.9 464.5,483.8 465.6,482.7 466.7,481.6 467.8,480.4 468.9,479.2 470.1,477.9 471.3,476.5 472.6,475.1 473.9,473.6 475.2,472.1 476.5,470.5 477.9,468.8 479.2,467.1 480.6,465.3 482.0,463.4 483.5,461.4 484.9,459.3 486.3,457.2 487.7,454.9 489.2,452.6 490.6,450.1 492.0,447.5 493.4,444.9 494.8,442.1 496.2,439.2 497.6,436.1 499.0,433.0 500.4,429.7 501.7,426.2 503.0,422.6 504.4,418.9 505.7,415.0 507.1,410.9 508.4,406.6 509.8,402.2 511.2,397.5 512.6,392.7 514.1,387.6 515.7,382.4 517.3,376.9 519.0,371.1 520.9,365.1 522.9,358.9 525.1,352.4 527.5,345.6 530.1,338.5 533.1,331.1 536.4,323.3 540.0,315.3 544.2,306.8 548.9,298.1 554.3,288.9 681.1,288.9 681.1,510.0 439.9,510.0" fill="#4b64d5"/>
<polygon points="439.9,509.0 447.9,504.0 448.2,503.8 448.5,503.6 448.8,503.3 449.1,503.1 449.5,502.8 449.9,502.5 450.3,502.3 450.7,502.0 451.1,501.7 451.5,501.4 452.0,501.0 452.5,500.7 453.1,500.3 453.6,499.9 454.2,499.5 454.8,499.1 455.4,498.7 456.1,498.3 456.8,497.8 457.6,497.3 458.3,496.8 459.1,496.3 460.0,495.7 460.9,495.1 461.8,494.5 462.7,493.9 463.7,493.2 464.8,492.6 465.9,491.8 467.0,491.1 468.2,490.3 469.4,489.5 470.6,488.7 472.0,487.8 473.3,486.9 474.7,485.9 476.2,484.9 477.6,483.8 479.2,482.7 480.8,481.6 482.4,480.4 484.1,479.2 485.8,477.9 487.6,476.5 489.4,475.1 491.3,473.6 493.2,472.1 495.1,470.5 497.1,468.8 499.1,467.1 501.2,465.3 503.3,463.4 505.4,461.4 507.6,459.3 509.8,457.2 512.1,454.9 514.4,452.6 516.7,450.1 519.1,447.5 521.4,444.9 523.9,442.1 526.3,439.2 528.8,436.1 531.4,433.0 533.9,429.7 536.6,426.2 539.2,422.6 541.9,418.9 544.7,415.0 547.5,410.9 550.4,406.6 553.4,402.2 556.5,397.5 559.6,392.7 562.8,387.6 566.2,382.4 569.7,376.9 573.3,371.1 577.1,365.1 581.0,358.9 585.2,352.4 589.6,345.6 594.2,338.5 599.1,331.1 604.4,323.3 610.0,315.3 616.0,306.8 622.4,298.1 629.3,288.9 681.1,288.9 681.1,510.0 439.9,510.0" fill="#7b9ff9"/>
<polygon points="439.9,509.0 449.4,504.0 449.8,503.8 450.2,503.6 450.6,503.3 451.0,503.1 451.5,502.8 451.9,502.5 452.4,502.3 453.0,502.0 453.5,501.7 454.0,501.4 454.6,501.0 455.3,500.7 455.9,500.3 456.6,499.9 457.3,499.5 458.0,499.1 458.8,498.7 459.6,498.3 460.4,497.8 461.3,497.3 462.2,496.8 463.2,496.3 464.1,495.7 465.2,495.1 466.3,494.5 467.4,493.9 468.5,493.2 469.7,492.6 471.0,491.8 472.3,491.1 473.6,490.3 475.0,489.5 476.5,488.7 478.0,487.8 479.5,486.9 481.2,485.9 482.8,484.9 484.5,483.8 486.3,482.7 488.1,481.6 490.0,480.4 491.9,479.2 493.9,477.9 496.0,476.5 498.1,475.1 500.3,473.6 502.5,472.1 504.8,470.5 507.1,468.8 509.5,467.1 511.9,465.3 514.5,463.4 517.0,461.4 519.6,459.3 522.3,457.2 525.1,454.9 527.9,452.6 530.7,450.1 533.7,447.5 536.7,444.9 539.7,442.1 542.8,439.2 546.0,436.1 549.2,433.0 552.6,429.7 555.9,426.2 559.4,422.6 563.0,418.9 566.6,415.0 570.3,410.9 574.1,406.6 578.0,402.2 582.0,397.5 586.1,392.7 590.4,387.6 594.8,382.4 599.3,376.9 603.9,371.1 608.8,365.1 613.8,358.9 619.0,352.4 624.5,345.6 630.2,338.5 636.1,331.1 642.4,323.3 648.9,315.3 655.8,306.8 663.1,298.1 670.8,288.9 681.1,288.9 681.1,510.0 439.9,510.0" fill="#c0d4f5"/>
<polygon points="439.9,509.0 450.3,504.0 450.6,503.8 451.0,503.6 451.4,503.3 451.9,503.1 452.3,502.8 452.8,502.6 453.3,502.3 453.8,502.0 454.4,501.7 455.0,501.4 455.6,501.1 456.2,500.7 456.9,500.4 457.6,500.0 458.4,499.6 459.1,499.2 460.0,498.8 460.8,498.4 461.7,497.9 462.6,497.5 463.6,497.0 464.6,496.5 465.6,495.9 466.7,495.4 467.9,494.8 469.0,494.2 470.3,493.6 471.5,492.9 472.8,492.2 474.2,491.5 475.6,490.8 477.1,490.0 478.6,489.2 480.2,488.3 481.8,487.4 483.5,486.5 485.2,485.6 487.0,484.6 488.8,483.5 490.7,482.4 492.6,481.3 494.6,480.1 496.7,478.9 498.8,477.6 500.9,476.3 503.2,474.9 505.5,473.4 507.8,471.9 510.2,470.3 512.7,468.7 515.2,467.0 517.8,465.2 520.4,463.3 523.1,461.4 525.9,459.3 528.7,457.2 531.6,455.0 534.6,452.7 537.6,450.3 540.7,447.8 543.9,445.2 547.1,442.5 550.4,439.6 553.8,436.7 557.3,433.6 560.9,430.4 564.5,427.0 568.3,423.5 572.1,419.9 576.0,416.1 580.1,412.1 584.2,408.0 588.5,403.7 592.9,399.2 597.4,394.5 602.1,389.6 606.9,384.5 611.9,379.2 617.0,373.7 622.4,367.9 627.9,361.9 633.6,355.6 639.6,349.1 645.8,342.3 652.3,335.2 659.0,327.8 666.1,320.1 673.4,312.0 681.2,303.6 681.1,510.0 439.9,510.0" fill="#f2cbb7"/>
<polygon points="439.9,509.0 450.8,504.0 451.2,503.8 451.6,503.6 452.1,503.3 452.5,503.1 453.0,502.9 453.6,502.6 454.1,502.3 454.7,502.1 455.2,501.8 455.9,501.5 456.5,501.2 457.2,500.8 457.9,500.5 458.6,500.1 459.4,499.8 460.2,499.4 461.0,499.0 461.9,498.6 462.8,498.1 463.7,497.7 464.7,497.2 465.7,496.7 466.7,496.2 467.8,495.7 468.9,495.1 470.1,494.5 471.3,493.9 472.6,493.3 473.9,492.6 475.2,491.9 476.6,491.2 478.1,490.5 479.6,489.7 481.1,488.9 482.7,488.1 484.4,487.2 486.1,486.3 487.8,485.3 489.7,484.3 491.5,483.3 493.5,482.2 495.4,481.1 497.5,480.0 499.6,478.7 501.7,477.5 503.9,476.2 506.2,474.8 508.5,473.4 510.9,471.9 513.4,470.3 515.9,468.7 518.5,467.0 521.2,465.3 523.9,463.5 526.7,461.6 529.5,459.6 532.4,457.5 535.4,455.4 538.5,453.1 541.6,450.8 544.8,448.3 548.1,445.8 551.5,443.2 554.9,440.4 558.4,437.6 562.0,434.6 565.7,431.5 569.5,428.2 573.4,424.9 577.4,421.3 581.4,417.7 585.6,413.9 589.9,409.9 594.4,405.8 598.9,401.5 603.6,397.0 608.4,392.3 613.4,387.4 618.5,382.3 623.8,377.0 629.2,371.5 634.9,365.8 640.8,359.8 646.9,353.6 653.2,347.1 659.7,340.3 666.6,333.3 673.7,325.9 681.2,318.3 681.1,510.0 439.9,510.0" fill="#e36c55"/>
<polygon points="439.9,509.0 451.3,504.0 451.8,503.8 452.3,503.6 452.8,503.4 453.4,503.1 454.0,502.9 454.5,502.6 455.1,502.4 455.8,502.1 456.4,501.8 457.1,501.5 457.7,501.2 458.4,500.9 459.2,500.6 459.9,500.2 460.7,499.9 461.5,499.5 462.4,499.1 463.2,498.7 464.1,498.3 465.1,497.9 466.0,497.4 467.0,496.9 468.1,496.4 469.2,495.9 470.3,495.4 471.4,494.8 472.6,494.3 473.9,493.7 475.1,493.0 476.5,492.4 477.8,491.7 479.3,491.0 480.7,490.3 482.2,489.5 483.8,488.7 485.4,487.9 487.1,487.0 488.9,486.1 490.7,485.2 492.5,484.2 494.4,483.2 496.4,482.2 498.4,481.1 500.5,479.9 502.7,478.7 504.9,477.5 507.2,476.2 509.5,474.9 512.0,473.5 514.4,472.0 517.0,470.5 519.6,468.9 522.3,467.3 525.1,465.6 527.9,463.8 530.8,462.0 533.8,460.1 536.8,458.1 539.9,456.0 543.1,453.8 546.4,451.6 549.7,449.2 553.1,446.8 556.6,444.2 560.1,441.6 563.8,438.9 567.5,436.0 571.3,433.0 575.2,429.9 579.2,426.7 583.3,423.3 587.4,419.8 591.7,416.2 596.1,412.4 600.6,408.4 605.2,404.3 609.9,400.1 614.8,395.6 619.8,391.0 625.0,386.2 630.3,381.1 635.9,375.9 641.6,370.5 647.5,364.8 653.7,358.9 660.1,352.8 666.8,346.4 673.8,339.8 681.1,332.9 681.1,510.0 439.9,510.0" fill="#a52a2a"/>
</g>
<line x1="443.9" y1="508.55" x2="681.1" y2="508.55" stroke="#f3cdc6" stroke-width="0.8"/>
<rect x="439.9" y="288.9" width="241.2" height="220.4" fill="none" stroke="#1a1a1a" stroke-width="0.7"/>
<line x1="437.1" y1="509.3" x2="439.9" y2="509.3" stroke="#111" stroke-width="0.8"/>
<text x="435.3" y="514.6" text-anchor="end" textLength="19.6" lengthAdjust="spacingAndGlyphs" font-family="Liberation Sans, sans-serif" font-size="14.5" fill="#000" stroke="#000" stroke-width="0.15">0.0</text>
<line x1="437.1" y1="465.0" x2="439.9" y2="465.0" stroke="#111" stroke-width="0.8"/>
<text x="435.3" y="470.3" text-anchor="end" textLength="19.6" lengthAdjust="spacingAndGlyphs" font-family="Liberation Sans, sans-serif" font-size="14.5" fill="#000" stroke="#000" stroke-width="0.15">0.2</text>
<line x1="437.1" y1="421.0" x2="439.9" y2="421.0" stroke="#111" stroke-width="0.8"/>
<text x="435.3" y="426.3" text-anchor="end" textLength="19.6" lengthAdjust="spacingAndGlyphs" font-family="Liberation Sans, sans-serif" font-size="14.5" fill="#000" stroke="#000" stroke-width="0.15">0.4</text>
<line x1="437.1" y1="376.9" x2="439.9" y2="376.9" stroke="#111" stroke-width="0.8"/>
<text x="435.3" y="382.2" text-anchor="end" textLength="19.6" lengthAdjust="spacingAndGlyphs" font-family="Liberation Sans, sans-serif" font-size="14.5" fill="#000" stroke="#000" stroke-width="0.15">0.6</text>
<line x1="437.1" y1="332.9" x2="439.9" y2="332.9" stroke="#111" stroke-width="0.8"/>
<text x="435.3" y="338.2" text-anchor="end" textLength="19.6" lengthAdjust="spacingAndGlyphs" font-family="Liberation Sans, sans-serif" font-size="14.5" fill="#000" stroke="#000" stroke-width="0.15">0.8</text>
<line x1="437.1" y1="288.9" x2="439.9" y2="288.9" stroke="#111" stroke-width="0.8"/>
<text x="435.3" y="294.2" text-anchor="end" textLength="19.6" lengthAdjust="spacingAndGlyphs" font-family="Liberation Sans, sans-serif" font-size="14.5" fill="#000" stroke="#000" stroke-width="0.15">1.0</text>
<line x1="439.9" y1="509.3" x2="439.9" y2="512.1" stroke="#111" stroke-width="0.8"/>
<text x="439.9" y="524.4" text-anchor="middle" textLength="29.6" lengthAdjust="spacingAndGlyphs" font-family="Liberation Sans, sans-serif" font-size="14.5" fill="#000" stroke="#000" stroke-width="0.15">0.00</text>
<line x1="500.2" y1="509.3" x2="500.2" y2="512.1" stroke="#111" stroke-width="0.8"/>
<text x="500.2" y="524.4" text-anchor="middle" textLength="29.6" lengthAdjust="spacingAndGlyphs" font-family="Liberation Sans, sans-serif" font-size="14.5" fill="#000" stroke="#000" stroke-width="0.15">0.05</text>
<line x1="560.5" y1="509.3" x2="560.5" y2="512.1" stroke="#111" stroke-width="0.8"/>
<text x="560.5" y="524.4" text-anchor="middle" textLength="29.6" lengthAdjust="spacingAndGlyphs" font-family="Liberation Sans, sans-serif" font-size="14.5" fill="#000" stroke="#000" stroke-width="0.15">0.10</text>
<line x1="620.8" y1="509.3" x2="620.8" y2="512.1" stroke="#111" stroke-width="0.8"/>
<text x="620.8" y="524.4" text-anchor="middle" textLength="29.6" lengthAdjust="spacingAndGlyphs" font-family="Liberation Sans, sans-serif" font-size="14.5" fill="#000" stroke="#000" stroke-width="0.15">0.15</text>
<line x1="681.1" y1="509.3" x2="681.1" y2="512.1" stroke="#111" stroke-width="0.8"/>
<text x="681.1" y="524.4" text-anchor="middle" textLength="29.6" lengthAdjust="spacingAndGlyphs" font-family="Liberation Sans, sans-serif" font-size="14.5" fill="#000" stroke="#000" stroke-width="0.15">0.20</text>
<text x="549.6" y="541.7" font-family="Liberation Sans, sans-serif" font-size="16.2" fill="#000" stroke="#000" stroke-width="0.3" textLength="12.4" lengthAdjust="spacingAndGlyphs">&#937;</text>
<text x="562.7" y="544.3" font-family="Liberation Sans, sans-serif" font-style="italic" font-size="12.4" fill="#000" textLength="7.6" lengthAdjust="spacingAndGlyphs">p</text>
<text transform="translate(407.4,398.9) rotate(-90)" font-family="Liberation Sans, sans-serif" font-style="italic" font-size="18.2" fill="#000" text-anchor="middle">g</text>
<text x="374.6" y="298.2" font-family="Liberation Serif, serif" font-weight="bold" font-size="26" fill="#000" textLength="30.6" lengthAdjust="spacingAndGlyphs">(d)</text>
<polygon points="696.2,348.5 706.2,343.6 716.3,348.5" fill="#a52a2a"/>
<rect x="696.2" y="348.50" width="20.1" height="17.05" fill="#e36c55"/>
<rect x="696.2" y="365.25" width="20.1" height="17.05" fill="#f2cbb7"/>
<rect x="696.2" y="382.00" width="20.1" height="17.05" fill="#c0d4f5"/>
<rect x="696.2" y="398.75" width="20.1" height="17.05" fill="#7b9ff9"/>
<rect x="696.2" y="415.50" width="20.1" height="17.05" fill="#4b64d5"/>
<rect x="696.2" y="432.25" width="20.1" height="17.05" fill="#3c4ec2"/>
<polygon points="696.2,448.6 706.2,453.9 716.3,448.6" fill="#3c4ec2"/>
<polygon points="696.2,348.5 706.2,343.6 716.3,348.5 716.3,449.0 706.2,453.9 696.2,449.0" fill="none" stroke="#1a1a1a" stroke-width="0.7"/>
<line x1="716.3" y1="348.5" x2="719.1" y2="348.5" stroke="#1a1a1a" stroke-width="0.8"/>
<text x="720.9" y="354.1" textLength="29.6" lengthAdjust="spacingAndGlyphs" font-family="Liberation Sans, sans-serif" font-size="14.5" fill="#000" stroke="#000" stroke-width="0.15">1.00</text>
<line x1="716.3" y1="365.2" x2="719.1" y2="365.2" stroke="#1a1a1a" stroke-width="0.8"/>
<text x="720.9" y="370.9" textLength="29.6" lengthAdjust="spacingAndGlyphs" font-family="Liberation Sans, sans-serif" font-size="14.5" fill="#000" stroke="#000" stroke-width="0.15">0.70</text>
<line x1="716.3" y1="382.0" x2="719.1" y2="382.0" stroke="#1a1a1a" stroke-width="0.8"/>
<text x="720.9" y="387.6" textLength="29.6" lengthAdjust="spacingAndGlyphs" font-family="Liberation Sans, sans-serif" font-size="14.5" fill="#000" stroke="#000" stroke-width="0.15">0.50</text>
<line x1="716.3" y1="398.8" x2="719.1" y2="398.8" stroke="#1a1a1a" stroke-width="0.8"/>
<text x="720.9" y="404.4" textLength="29.6" lengthAdjust="spacingAndGlyphs" font-family="Liberation Sans, sans-serif" font-size="14.5" fill="#000" stroke="#000" stroke-width="0.15">0.30</text>
<line x1="716.3" y1="415.5" x2="719.1" y2="415.5" stroke="#1a1a1a" stroke-width="0.8"/>
<text x="720.9" y="421.1" textLength="29.6" lengthAdjust="spacingAndGlyphs" font-family="Liberation Sans, sans-serif" font-size="14.5" fill="#000" stroke="#000" stroke-width="0.15">0.10</text>
<line x1="716.3" y1="432.2" x2="719.1" y2="432.2" stroke="#1a1a1a" stroke-width="0.8"/>
<text x="720.9" y="437.9" textLength="29.6" lengthAdjust="spacingAndGlyphs" font-family="Liberation Sans, sans-serif" font-size="14.5" fill="#000" stroke="#000" stroke-width="0.15">0.01</text>
<line x1="716.3" y1="449.0" x2="719.1" y2="449.0" stroke="#1a1a1a" stroke-width="0.8"/>
<text x="720.9" y="454.6" textLength="29.6" lengthAdjust="spacingAndGlyphs" font-family="Liberation Sans, sans-serif" font-size="14.5" fill="#000" stroke="#000" stroke-width="0.15">0.00</text>
</g>
</svg>
</body></html>
